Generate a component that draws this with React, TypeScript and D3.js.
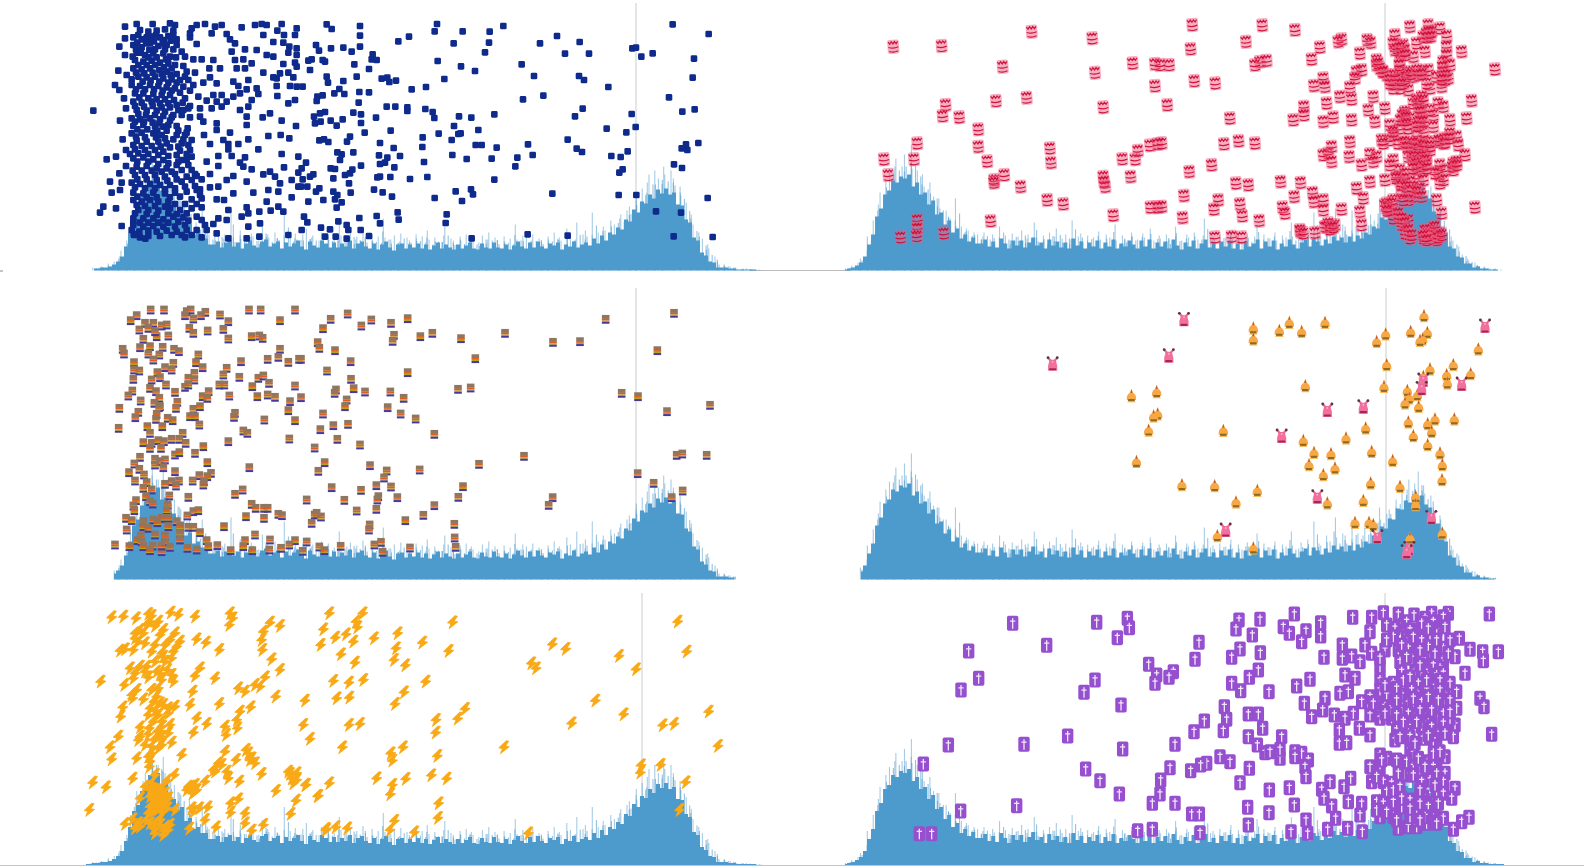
import React from "react";
import * as d3 from "d3";

// Coverage tracks: one bin every few genome units, values are track heights.
const leftCoverage = [
  1,1,2,2,3,3,4,6, 9,14,24,38,54,60,74,78, 90,88,92,80,82,68,66,56, 58,44,47,36,38,32,32,26,
  26,29,23,28,30,24,28,22,27,30, 25,23,29,31,24,27,29,22,28,24, 27,30,24,21,29,25,23,30,27,23,
  28,23,27,24,30,22,27,29,24,22, 27,21,26,29,23,20,26,27,22,26, 23,27,22,26,21,25,28,22,26,23,
  21,26,22,25,28,22,21,27,23,22, 28,23,22,26,21,25,29,24,22,28, 23,29,24, 22,27,25,28,21,26,24,29,23,26,
  28,25,32,27,35,30,38,36,43,41, 51,49,61,58,69,67,76,72,81,77, 82,76,78,66,65,51,48,33,30,18, 15,9,8,3,3,3,2,2,1,1, 1,1,1,0,0,
];
const leftSpikes = [
  1,2,3,3,4,5,7,9, 14,20,30,50,62,74,84,92, 104,112,100,108,92,84,80,72, 70,58,66,48,44,60,38,36,
  34,38,32,36,62,33,35,40,31,37, 34,30,45,36,33,38,32,35,58,34, 37,31,36,42,33,35,30,38,34,36,
  32,48,35,33,37,31,34,39,32,36, 30,34,52,33,31,35,29,37,33,30, 36,32,34,40,31,33,29,35,44,32,
  30,34,31,36,33,30,28,35,31,38, 33,30,34,29,32,46,31,35,33,30, 36,32,29,34,31,38,33,30,42,35, 31,48,36,
  40,36,58,38,44,40,50,46,52,56, 60,64,70,76,82,88,96,100,92,104, 96,100,92,84,78,68,56,46,38,32, 26,22,14,9,6,5,4,3,2,2, 2,1,1,1,0,
];
const rightCoverage = [
  1,2,3,5,8,14,26,36,54,62,76,80,90,88,94,92, 96,84,88,76,78,66,70,56,58,46,50,38,42,32,36,29,33,27,
  27,31,24,29,23,32,27,22,30,25, 30,23,28,33,25,28,22,31,25,29, 23,28,22,32,25,29,22,28,24,30,
  22,28,24,31,22,27,24,30,26,22, 30,24,31,22,28,24,29,22,31,25, 21,28,24,30,22,27,31,23,27,22,
  29,24,30,22,27,21,29,24,27,31, 22,29,24,30,21,27,24,31,26,22, 28,31,24,32,29,25,31,27,34,30,33,
  28,34,29,35,32,38,36,44,42,53, 51,61,60,71,70,79,77,85,81,84, 75,72,59,56,43,38,24,22,14,13, 7,7,3,4,2,2,1,1,1,1, 0,0,
];
const rightSpikes = [
  2,3,5,8,12,20,34,50,66,78,90,98,104,112,104,116, 108,126,100,96,84,88,74,72,62,60,54,50,72,44,42,40,38,36,
  34,38,31,36,33,44,35,30,37,34, 40,32,36,48,33,35,30,38,34,42, 32,36,31,50,34,37,30,35,33,39,
  31,36,33,46,30,35,32,38,34,31, 37,33,42,30,35,32,36,31,44,34, 30,36,33,38,31,35,52,32,34,30,
  36,33,40,31,35,30,37,33,34,46, 31,36,32,38,30,35,33,48,34,31, 37,40,33,58,36,34,44,38,62,42,46,
  44,40,60,46,44,52,56,50,72,60, 66,70,72,80,88,90,100,96,108,94, 86,84,72,64,56,44,34,30,24,16, 12,10,8,5,4,3,2,2,1,1, 0,0,
];
const spikeJitter = [0.4, 1.7, -1.2, 1.0, -0.6, 2.1, -1.7, 0.2, 1.3, -1.0, 0.8];

// Scatter readings; each list is in the units of the reading window named in its plot call.
const blueNear = [
  [375,80],[410,72],[458,72],[510,70],[525,75],[575,85],[590,75],[615,72],[645,80],[665,75],[725,82],[765,75],[785,72],[800,75],[845,72],[890,85],
  [420,90],[445,95],[470,92],[495,88],[520,92],[570,100],[635,100],[680,102],[790,105],[832,92],[852,105],[885,105],[375,115],[400,112],[425,118],[455,110],[480,112],[505,108],[530,118],[570,112],[690,118],[705,130],[820,126],[850,128],[868,140],[890,145],
  [358,140],[400,135],[425,142],[450,130],[475,138],[500,135],[520,148],[545,155],[590,132],[735,148],[770,150],[800,165],[820,170],[865,158],[890,165],[375,165],[410,158],[435,165],[460,160],[490,160],[510,170],[555,170],[580,178],[605,178],[695,155],[705,180],[730,178],[755,190],[885,188],
  [405,180],[430,185],[455,182],[480,188],[505,190],[525,195],[550,198],[640,180],[660,205],[710,205],[735,205],[850,192],[890,200],[400,205],[425,208],[450,205],[478,210],[500,215],[530,222],[560,215],[585,218],[628,205],[790,218],[830,235],[865,218],
  [355,212],[380,225],[415,230],[440,232],[465,230],[490,235],[515,238],[540,240],[565,240],[610,248],[630,232],[650,250],[700,245],[715,258],[745,240],[770,265],[820,232],[840,220],[880,232],
  [345,255],[395,255],[420,258],[450,255],[475,258],[500,262],[525,265],[550,260],[580,255],[740,268],[830,258],[870,258],[890,260],
  [358,270],[405,280],[430,280],[460,282],[485,285],[510,285],[555,295],[595,290],[640,285],[665,285],[700,290],[720,280],[775,282],[832,288],[885,300],[865,310],
  [372,295],[400,305],[425,308],[455,305],[480,310],[505,310],[530,315],[570,318],[620,302],[650,305],[680,305],[745,320],[755,300],[378,325],[410,330],[440,332],[470,332],[495,335],[520,345],[565,325],[600,325],[635,325],[665,320],[720,330],[810,340],
  [280,332],[395,355],[420,358],[450,355],[480,358],[510,362],[545,345],[570,352],[600,350],[740,350],[788,352],[845,362],[360,362],[400,378],[430,375],[465,380],[490,380],[530,378],[563,385],[610,365],[650,370],[740,375],[888,378],[650,390],
  [395,400],[425,398],[460,400],[485,405],[530,405],[555,405],[612,405],[690,398],[805,408],[842,405],[868,415],[368,418],[410,422],[440,425],[475,425],[500,430],[545,430],[575,420],[630,432],[670,420],[685,432],[715,432],[745,418],
  [378,450],[405,448],[435,450],[465,450],[490,455],[540,452],[570,450],[685,448],[775,448],[845,462],[320,478],[348,470],[400,475],[430,472],[460,478],[490,480],[545,480],[575,470],[620,485],[655,468],[695,468],[735,472],[720,488],[895,470],
  [378,498],[410,500],[440,498],[470,505],[500,505],[530,495],[565,495],[655,498],[755,508],[730,500],[852,502],[358,520],[405,525],[435,525],[465,525],[495,530],[525,522],[585,522],[630,522],[700,528],[790,523],[810,515],[825,530],[895,518],
  [330,545],[365,548],[395,548],[420,552],[450,552],[480,555],[510,555],[545,545],[575,540],[605,538],[680,540],[740,545],[875,540],[840,550],[895,560],
  [335,578],[360,570],[400,578],[430,580],[460,578],[495,580],[525,578],[560,575],[600,585],[630,562],[655,560],[760,578],[805,570],[835,575],[400,600],[425,605],[450,600],[475,605],[505,605],[575,598],[605,595],[650,598],[672,600],[700,580],[800,605],[875,592],
  [310,620],[300,638],[348,625],[415,630],[445,630],[475,632],[510,625],[540,630],[575,625],[605,622],[685,630],[740,622],[745,640],[778,635],[812,632],[835,620],[850,635],[400,655],[430,655],[460,655],[490,658],[520,650],[550,652],[590,650],[655,655],[680,660],[725,650],
  [365,678],[400,675],[430,680],[460,678],[490,680],[525,680],[555,675],[615,675],[640,672],[745,680],[780,670],[402,705],[420,712],[436,716],[545,705],[575,705],[605,712],[650,700],[685,715],[740,715],[778,710],[865,705],
];
const blueBand = [
  [415,105],[440,112],[468,105],[492,120],[520,105],[412,128],[438,130],[462,124],[488,130],[512,122],[408,148],[422,158],[448,150],[465,148],[495,148],[530,135],[398,170],[445,172],[470,172],[498,178],[528,172],[415,195],[440,195],[465,195],[492,202],[515,205],[408,218],[433,220],[458,218],[485,222],[512,225],[395,238],[428,245],[452,242],[478,245],[505,248],[530,248],[555,230],[408,268],[435,268],[462,268],[488,272],[515,272],[540,278],[570,272],[418,292],[445,295],[470,298],[495,298],[522,300],[548,308],[405,318],[432,320],[458,318],[485,322],[510,322],[535,330],[415,342],[438,345],[465,345],[490,348],[515,352],[550,330],[405,365],[432,365],[458,368],[478,370],[505,375],[412,388],[442,388],[472,392],[500,392],[535,392],[560,398],[408,410],[435,412],[468,412],[495,415],[520,418],[550,418],[400,435],[425,438],[455,438],[482,440],[510,442],[535,440],[565,435],[415,460],[445,462],[475,465],[505,468],[530,465],[560,462],[390,462],[412,485],[445,485],[475,492],[505,490],[535,485],[560,480],[398,512],[425,512],[455,512],[485,515],[515,515],[545,510],[575,510],[590,528],[412,538],[440,538],[470,540],[502,542],[530,538],[560,530],[405,562],[435,565],[465,565],[495,568],[525,565],[555,560],[585,558],[600,568],[412,590],[440,592],[470,592],[510,592],[540,590],[590,570],[410,615],[435,618],[465,618],[495,620],[525,612],[555,612],[590,612],[405,640],[440,642],[470,645],[505,640],[530,642],[560,640],[400,665],[420,668],[445,668],[475,668],[505,668],[535,665],[565,662],[605,660],[395,690],[418,695],[445,692],[470,695],[500,692],[530,695],[560,690],[590,690],[620,690],[402,702],[445,708],[480,708],[515,705],[555,712],
];
const blueFar = [
  [80,43],[95,57],[180,48],[180,77],[180,110],[93,115],[130,113],[155,125],[48,105],[57,122],[295,94],[327,80],[411,42],[404,64],[488,64],[569,65],[610,48],[567,98],[461,100],[555,127],[720,100],[771,78],[839,96],[795,131],[867,131],[1118,43],[1226,72],[997,115],[1008,113],[1024,140],[1058,130],[1182,146],[665,163],[702,198],[413,153],[483,169],[525,183],[218,133],[215,148],[230,150],[68,150],[75,155],[25,152],[35,148],[163,163],[207,177],[30,180],[80,200],[84,218],[170,200],[130,213],[245,206],[262,203],[268,216],[288,212],[433,207],[378,231],[335,238],[8,230],[103,250],[118,237],[133,252],[178,246],[207,247],[52,260],[68,256],[50,273],[176,278],[260,290],[286,290],[322,292],[322,303],[376,297],[398,306],[403,324],[477,319],[514,323],[583,313],[669,268],[730,257],[837,198],[852,210],[925,231],[1107,262],[1178,203],[848,296],[825,319],[995,312],[1147,305],[1184,298],[160,308],[183,313],[183,339],[228,323],[75,306],[60,310],[42,320],[45,340],[62,335],[92,332],[110,347],[128,328],[462,348],[535,360],[1007,351],[920,356],[979,367],[194,368],[272,362],[416,371],[368,382],[475,372],[455,390],[482,370],[58,391],[72,388],[85,396],[150,380],[141,395],[240,399],[803,389],[684,403],[367,411],[281,414],[527,405],[545,405],[590,413],[830,416],[846,426],[983,424],[1195,399],[1145,415],[1158,403],[1162,420],[160,427],[112,427],[125,433],[120,450],[237,436],[300,438],[262,443],[255,458],[240,462],[457,435],[500,447],[575,446],[652,443],[698,435],[934,438],[962,441],[372,456],[183,467],[283,472],[646,469],[1122,463],[1146,474],[968,478],[958,488],[92,475],[105,477],[18,458],[5,475],[40,493],[30,500],[135,495],[150,490],[157,479],[240,500],[232,502],[271,501],[382,501],[330,507],[583,509],[100,505],[8,508],[147,520],[22,530],[3,530],[58,535],[48,545],[222,539],[248,547],[152,548],[100,545],[112,555],[105,568],[276,560],[467,544],[513,538],[519,553],[404,564],[757,551],[956,555],[1009,555],[1223,564],[25,575],[70,570],[125,577],[110,593],[486,573],[1068,604],[1143,608],[293,607],[440,613],[12,620],[22,637],[230,618],[240,640],[178,624],[115,634],[296,629],[437,639],[140,645],[145,660],[63,653],[90,658],[182,660],[5,660],[75,680],[107,680],[207,678],[140,686],[515,685],[683,673],[803,677],[1121,679],[1238,681],
];
const redNear = [
  [100,140],[245,138],[515,95],[697,115],[818,190],[885,192],[428,200],[705,218],[885,258],[257,315],[248,348],[298,352],[408,303],[500,293],[730,322],[355,388],[355,440],[172,430],[72,478],[162,478],[382,484],[85,525],[570,445],[573,488],[433,525],[403,540],[402,548],[730,530],[736,560],[732,545],[787,477],[826,478],[834,452],[870,436],[893,432],[812,530],[482,560],[562,600],[610,612],[392,663],[760,646],[872,622],[893,622],[172,660],[172,685],[170,708],[122,712],[252,700],
];
const redFar = [
  [97,75],[307,76],[405,90],[92,147],[258,125],[480,142],[455,178],[545,118],[535,125],[622,120],[632,128],[600,160],[905,155],[1005,208],[28,195],[0,195],[103,243],[166,250],[300,185],[320,182],[285,195],[490,235],[462,257],[495,260],[590,215],[605,210],[585,235],[570,262],[540,290],[575,298],[500,310],[22,315],[210,355],[432,320],[432,345],[400,360],[490,365],[520,352],[575,360],[935,302],[920,355],[870,360],[640,290],[625,330],[645,365],[675,325],[5,430],[192,432],[236,423],[285,430],[570,425],[568,470],[505,460],[490,465],[515,440],[515,485],[605,495],[650,470],[630,462],[155,495],[88,515],[228,550],[265,555],[362,545],[422,548],[403,590],[458,578],[462,605],[490,600],[490,630],[545,628],[590,565],[610,595],[630,545],[600,635],[605,675],[72,587],[5,620],[175,600],[162,628],[240,612],[247,648],[68,653],[298,662],[368,622],[375,640],[945,622],[165,712],[215,710],[245,712],[422,695],[465,698],[495,680],[515,680],[525,675],[505,670],
  [750,80],[805,75],[840,85],[705,105],[860,108],[805,105],[790,110],[700,130],[730,135],[770,130],[860,140],[860,165],[725,160],[720,180],[795,155],[650,180],[660,205],[680,225],[705,240],[730,250],[745,270],[700,265],[760,230],[790,215],[760,170],[745,215],[720,215],[850,185],[870,195],[850,215],[865,235],[845,260],[810,265],[785,290],[775,320],[785,350],[780,375],[835,310],[850,320],[820,345],[735,335],[730,360],[720,385],[700,405],[690,375],[665,420],[730,430],[750,440],[770,430],[800,425],[830,425],[855,415],[890,410],[895,435],[915,465],[880,490],[855,510],[835,515],[840,550],[840,495],[800,470],[780,480],[790,510],[760,480],[745,470],[700,480],[690,495],[720,510],[770,520],[750,545],[720,545],[675,540],[790,540],[780,565],[760,590],[725,580],[700,600],[680,610],[690,630],[715,650],[725,675],[735,700],[750,715],[830,600],[845,640],[800,705],[790,715],[820,690],[840,700],[830,720],[770,440],[790,455],[810,450],[770,405],[820,380],[745,385],[690,420],[715,430],[755,465],[770,500],[735,520],[790,395],[810,330],[760,310],[750,355],[800,100],[815,95],[735,150],[705,150],[650,195],[670,215],[690,250],[720,265],[775,225],[805,210],[830,230],[855,240],[800,250],[735,235],[880,510],[890,485],[760,450],[785,440],[780,455],[800,490],[775,465],[735,535],[710,530],[760,560],[680,625],[700,655],[745,660],[800,695],[815,715],[735,345],[785,335],[775,365],[700,395],[670,430],[850,430],[870,400],[640,485],[850,540],[825,520],
];
const redCore = [
  [655,190],[668,215],[690,238],[700,252],[718,235],[738,228],[752,222],[772,210],[785,222],[705,225],[725,252],[712,145],[722,142],[735,165],[718,195],[808,95],[800,112],[812,110],[848,200],[858,225],[846,238],[770,300],[778,308],[790,300],[780,335],[782,362],[772,378],[790,365],[728,345],[722,360],[738,352],[740,372],[735,425],[742,440],[760,428],[775,445],[790,435],[810,438],[838,420],[855,428],[868,415],[762,470],[775,480],[785,470],[795,480],[770,490],[782,498],[800,505],[760,505],[878,500],[890,495],[708,535],[725,555],[738,560],[755,570],[770,575],[785,590],[745,600],[730,600],[675,615],[685,620],[695,610],[682,632],[715,640],[725,655],[735,668],[745,690],[755,705],[795,690],[805,700],[812,688],[825,680],[790,708],[800,720],[835,712],[845,705],[500,680],[510,688],[520,682],[420,690],[430,700],
];
const stripesNear = [
  [152,30],[192,30],[260,35],[272,30],[316,37],[303,47],[280,57],[255,47],[360,45],[385,65],[447,30],[482,30],[585,30],[540,62],[110,47],[92,62],[135,70],[160,70],[185,78],[200,75],[118,90],[145,85],[170,110],[370,88],[268,85],[280,100],[323,93],[205,108],[130,118],[165,95],[455,110],[478,108],[488,115],[385,117],[68,148],[72,162],[120,143],[150,140],[188,142],[222,148],[237,155],[145,162],[178,165],[160,180],[295,165],[540,148],[535,172],[503,178],[565,187],[597,178],[423,185],[102,188],[195,203],[220,190],[288,188],[308,203],[215,210],[102,210],[118,213],[380,205],[370,225],[283,220],[172,218],[180,233],[418,232],[475,235],[490,228],[507,250],[100,238],[155,240],[265,235],[283,240],[150,265],[168,275],[198,255],[225,277],[255,262],[265,255],[358,255],[373,255],[457,260],[585,258],[97,273],[85,288],[308,290],[326,275],[322,295],[388,288],[472,290],[503,285],[525,292],[178,295],[122,303],[232,307],[163,310],[180,320],[228,325],[570,305],[58,325],[115,337],[177,323],[280,328],[300,320],[565,332],[405,340],[402,352],[106,353],[170,343],[168,358],[203,355],[218,362],[270,350],[285,350],[493,360],[585,362],[142,380],[187,380],[298,375],[56,385],[430,393],[442,400],[150,400],[248,400],[130,428],[155,430],[175,422],[192,425],[215,418],[238,418],[257,430],[385,425],[568,417],[150,445],[183,445],[310,440],[225,465],[238,458],[285,460],[120,472],[165,478],[180,485],[195,480],[322,488],[165,495],[190,503],[103,492],[448,503],[118,508],[87,518],[225,515],[298,527],[333,520],[322,530],[132,525],[105,543],[140,548],[215,545],[237,543],[278,543],[195,553],[312,545],[228,558],[310,555],[130,565],[155,570],[428,570],[405,583],[138,590],[208,588],[265,592],[108,602],[100,618],[150,605],[203,615],[158,612],[103,632],[200,632],[280,635],[295,632],[262,648],[455,613],[467,625],[492,625],[503,625],[535,643],[546,647],[438,650],[492,655],[78,655],[95,662],[130,665],[160,660],[185,655],[205,655],[130,680],[145,685],[172,668],[230,665],[240,680],[80,690],[205,680],[265,682],[280,682],[300,698],[372,680],[465,705],[122,708],[165,705],[195,708],[240,700],[112,722],[125,725],[195,725],[240,720],[320,722],[435,722],[510,720],[585,722],[45,735],[88,740],[130,740],[158,738],[210,742],[262,745],[290,750],[325,740],[352,737],[430,740],[392,752],[457,752],[508,750],[543,745],[568,735],[150,752],[185,755],[185,738],
];
const stripesFar = [
  [143,42],[92,58],[214,60],[273,70],[323,56],[69,86],[184,78],[282,106],[278,124],[361,110],[397,100],[483,116],[615,100],[759,127],[840,125],[917,58],[1122,40],[1072,152],[53,128],[58,145],[105,152],[3,178],[152,185],[526,176],[81,213],[323,218],[153,238],[161,266],[108,270],[104,280],[195,276],[271,276],[474,268],[512,264],[965,280],[1014,290],[3,293],[311,295],[140,300],[135,320],[263,323],[69,342],[302,342],[347,357],[1101,335],[1230,316],[144,373],[100,377],[61,389],[403,403],[112,418],[180,435],[44,444],[672,469],[74,488],[210,497],[537,493],[1130,466],[1147,462],[1220,466],[55,514],[260,513],[359,510],[252,534],[1013,521],[229,557],[95,563],[273,561],[489,560],[1061,550],[183,571],[1148,573],[235,590],[232,600],[292,593],[20,600],[133,601],[475,592],[758,593],[1115,593],[229,628],[170,633],[746,616],[403,617],[50,640],[44,645],[63,651],[370,646],[35,670],[316,662],[209,675],[207,690],[463,673],[20,726],[243,727],[223,735],[464,714],[467,742],[58,741],[122,739],[330,744],[8,754],[73,752],[248,757],
];
const flames = [
  [160,85],[160,118],[238,92],[268,68],[305,95],[375,68],[530,125],[557,103],[632,95],[672,48],[682,98],[668,118],[660,122],[835,148],[560,195],[690,208],[760,195],[812,222],[740,225],[742,250],[552,260],[316,258],[670,230],[652,285],[622,272],[628,295],[615,310],[656,320],[625,367],[497,385],[70,392],[683,372],[705,358],[695,395],[763,358],[640,408],[310,422],[438,415],[683,435],[515,455],[342,458],[393,462],[578,482],[327,495],[405,505],[720,460],[727,495],[370,525],[512,550],[600,560],[726,540],[44,558],[172,572],[108,607],[382,610],[490,602],[647,590],[647,615],[465,668],[507,668],[520,675],[727,700],[52,708],[630,715],[160,745],
];
const pinks = [
  [855,78],[382,330],[490,320],[245,408],[352,590],[77,690],[670,240],[665,265],[785,252],[694,652],[532,710],[628,745],[620,755],
];
const flamesOverview = [[1120,392],[1145,388],[1146,410],[1142,412],[1137,426],[1125,457],[1170,480]];
const pinksOverview = [[1042,360],[1157,352],[1172,316]];
const boltsNear = [
  [95,82],[130,80],[168,85],[205,72],[215,78],[272,68],[295,75],[345,80],[450,70],[458,85],[448,105],[570,98],[600,108],[550,125],[545,150],[547,180],[165,130],[175,155],[190,130],[200,105],[235,95],[250,120],[285,130],[300,155],[280,185],[225,165],[245,190],[350,148],[378,158],[418,180],[120,182],[135,178],[160,180],[575,208],[600,240],[150,235],[165,250],[200,230],[205,262],[245,270],[275,255],[360,235],[345,258],[405,265],[62,275],[133,285],[225,215],[255,215],[230,245],[525,285],[555,262],[540,290],[475,295],[495,305],[587,320],[338,305],[158,325],[190,328],[230,320],[330,345],[418,342],[512,352],[128,352],[122,380],[210,355],[250,345],[285,350],[235,375],[265,370],[480,365],[470,390],[350,385],[380,402],[435,410],[220,395],[245,410],[270,405],[180,412],[340,428],[438,435],[472,415],[115,440],[175,450],[205,432],[235,440],[90,472],[95,508],[215,470],[245,465],[275,458],[305,495],[170,505],[205,500],[435,485],[498,480],[515,505],[525,520],[208,530],[468,510],[545,552],[425,525],[405,545],[445,565],[283,555],[478,575],[38,578],[78,592],[158,566],[375,575],[262,572],[325,590],[345,585],[338,610],[350,600],[630,552],[650,550],[640,580],[678,585],[715,618],[588,603],[180,625],[220,600],[235,625],[265,625],[452,640],[475,628],[648,632],[28,660],[285,660],[340,665],[383,652],[452,668],[495,670],[632,672],[205,670],[232,660],[250,650],[375,690],[495,700],[135,702],[158,688],[180,710],[222,715],[250,722],[270,705],[328,716],[408,712],[515,722],[550,705],[738,720],[225,640],[210,620],[240,690],[200,690],[195,590],[215,580],
];
const boltsCore = [
  [210,95],[225,108],[165,145],[180,120],[240,135],[270,150],[290,170],[255,165],[215,185],[195,160],[250,200],[275,205],[180,230],[195,245],[240,250],[262,240],[280,275],[160,265],[170,300],[155,315],[215,300],[235,295],[222,335],[240,340],[265,355],[205,375],[225,362],[245,395],[232,425],[222,450],[245,440],[265,430],[208,415],[180,440],[195,465],[215,490],[235,475],[210,515],[225,555],[210,600],[215,615],[228,600],[245,595],[240,615],[255,610],[222,630],[232,645],[245,640],[260,640],[210,650],[220,665],[245,665],[262,655],[225,700],[240,705],[258,710],[265,720],[250,735],[225,730],[210,700],[175,700],[165,715],[335,590],[320,600],[345,605],[358,655],[335,655],[400,540],[415,520],[440,545],[505,490],[510,510],[635,565],[650,570],[625,545],
];
const boltsFar = [
  [88,70],[70,118],[62,165],[106,143],[138,133],[168,95],[172,112],[188,70],[160,155],[123,193],[222,145],[165,218],[293,130],[288,175],[282,210],[316,226],[367,158],[458,97],[446,183],[100,273],[147,278],[190,270],[377,275],[110,325],[148,323],[312,307],[285,342],[15,332],[10,405],[147,405],[180,402],[30,447],[127,472],[408,390],[407,428],[495,357],[473,386],[612,472],[309,472],[272,490],[277,512],[412,498],[230,565],[277,585],[271,613],[317,567],[394,556],[440,566],[16,585],[88,580],[53,618],[416,640],[414,684],[283,693],[270,720],[78,717],[107,712],[142,715],[343,727],[685,730],[757,163],[797,177],[694,220],[708,235],[957,198],[1008,238],[1133,95],[1160,185],[886,332],[971,373],[815,400],[1088,406],[1122,402],[1226,365],[1254,468],[1023,526],[1021,548],[1082,525],[1157,577],[1139,660],
];
const crossesNear = [
  [398,100],[650,97],[742,85],[748,113],[712,143],[266,183],[500,166],[296,265],[243,300],[645,270],[612,307],[806,223],[830,255],[825,280],[880,245],[867,262],[723,345],[205,465],[432,463],[563,438],[728,477],[885,463],[130,522],[617,537],[660,572],[870,533],[842,570],[840,612],[718,612],[817,640],[885,640],[242,663],[410,647],[118,731],[155,731],[773,722],[817,718],
];
const crossesFar = [
  [177,90],[240,88],[343,72],[168,117],[217,135],[310,110],[328,130],[378,122],[365,155],[422,98],[422,138],[518,82],[575,82],[928,72],[57,157],[45,208],[155,202],[180,177],[241,188],[432,202],[487,165],[487,205],[515,198],[540,215],[555,165],[570,125],[838,145],[870,178],[908,185],[910,212],[955,185],
  [235,240],[208,262],[155,280],[182,302],[267,305],[350,288],[390,268],[495,255],[525,265],[480,310],[505,305],[855,250],[900,325],[912,350],[133,350],[373,340],[435,325],[428,360],[395,380],[463,375],[495,385],[520,370],[140,388],[130,422],[73,393],[42,425],[205,372],[235,372],[248,415],[205,440],[305,440],[232,465],[255,488],[270,485],[300,505],[300,478],[345,485],[365,490],[385,510],[345,500],[375,530],[378,560],[478,420],[478,460],[500,458],[538,415],[570,435],[935,433],
  [120,500],[150,515],[80,520],[62,525],[32,542],[208,535],[180,578],[268,600],[328,593],[425,598],[450,575],[492,590],[512,565],[432,625],[455,648],[505,635],[545,640],[343,645],[203,652],[267,668],[35,672],[58,672],[467,685],[540,675],[378,690],[205,705],[60,728],[333,725],[383,730],[443,718],[503,715],[547,725],[820,718],[845,695],[867,682],
  [610,68],[655,72],[702,75],[755,70],[805,70],[790,80],[735,85],[620,105],[645,115],[670,105],[715,120],[770,120],[795,110],[640,140],[680,140],[750,140],[810,150],[700,165],[615,180],[655,180],[685,175],[745,170],[790,175],[825,200],[575,190],[600,230],[660,215],[695,205],[750,205],[790,210],[665,245],[705,245],[745,245],[780,235],[600,270],[670,270],[715,280],[765,290],[810,280],[830,305],[570,320],[600,300],[620,315],[665,315],[710,310],[760,320],[795,315],[545,335],[590,340],[640,345],[685,340],[725,335],[770,350],[830,355],[795,345],[570,375],[600,385],[635,385],[665,365],[700,375],[740,375],[775,385],[650,420],[685,410],[725,410],[770,430],[825,405],[820,440],[800,415],[645,450],[690,440],[730,445],[770,470],[795,500],[600,495],[620,505],[690,480],[680,515],[570,530],[600,535],[720,540],[770,510],[795,550],[575,575],[610,575],[655,550],[635,580],[690,555],[750,570],[790,575],[825,595],[620,605],[590,635],[640,635],[690,630],[770,610],[815,625],[600,680],[665,650],[710,660],[760,665],[790,685],[655,715],[685,710],[710,710],[740,700],[760,695],[730,620],[590,660],[640,680],
  [620,150],[600,205],[730,210],[760,225],[640,280],[690,290],[740,300],[580,340],[615,350],[750,345],[700,345],[685,370],[630,360],[790,370],[745,400],[810,385],[660,440],[700,490],[760,450],[745,515],[700,530],[650,510],[760,530],[640,600],[760,640],[690,680],
];
const crossesCore = [
  [680,95],[725,100],[760,95],[690,120],[745,115],[700,140],[725,150],[770,150],[665,165],[720,180],[765,190],[805,190],[680,200],[720,225],[770,255],[790,250],[690,260],[740,270],[780,270],[615,285],[650,295],[695,300],[780,300],[650,330],[700,325],[745,320],[775,330],[810,330],[615,370],[650,375],[720,360],[755,360],[810,365],[670,395],[710,395],[755,410],[790,400],[795,430],[745,435],[705,460],[760,490],[780,485],[715,505],[735,530],[700,555],[725,575],[770,550],[765,585],[605,510],[590,560],[660,590],[720,600],[790,610],[610,640],[665,625],[720,640],[745,650],[775,640],[620,665],[690,655],[735,680],[770,700],[650,690],[720,690],
];

// Reading windows: the span of the picture that each list above was read in.
const windows = {
  blueNear: [0, 0, 300, 280], blueFar: [300, 10, 420, 240],
  redNear: [860, 0, 300, 280], redFar: [1160, 0, 340, 270],
  stripesNear: [100, 300, 200, 280], stripesFar: [300, 300, 430, 280],
  flames: [1200, 300, 300, 280], boltsNear: [80, 590, 250, 278], boltsFar: [300, 590, 430, 250],
  crossesNear: [880, 590, 300, 278], crossesFar: [1180, 590, 320, 270],
};

const READ_ZOOM = 3;
const windowScales = ([x, y, w, h]: number[]) => ({
  x: d3.scaleLinear().domain([0, w * READ_ZOOM]).range([x, x + w]),
  y: d3.scaleLinear().domain([0, h * READ_ZOOM]).range([y, y + h]),
});
const overview = {
  x: d3.scaleLinear().domain([0, 1568]).range([0, 1584]),
  y: d3.scaleLinear().domain([0, 859]).range([0, 868]),
};

const rows = [
  { base: 270.5, marker: 3 },
  { base: 579.5, marker: 288 },
  { base: 865, marker: 593 },
];
const leftTrack = { from: 86, to: 762, marker: [636, 636, 642] };
const rightTrack = { from: 845, to: 1510, marker: [1385, 1386, 1385] };
const tracks = [
  { cov: leftCoverage, spike: leftSpikes, ...leftTrack, clip: [[90, 758], [112, 735], [86, 762]] },
  { cov: rightCoverage, spike: rightSpikes, ...rightTrack, clip: [[843, 1498], [860, 1495], [845, 1510]] },
];

function Track({ t, r }: { t: (typeof tracks)[number]; r: number }) {
  const base = rows[r].base;
  const x = d3.scaleLinear().domain([0, t.cov.length - 1]).range([t.from, t.to]);
  const y = d3.scaleLinear().domain([0, 100]).range([base, base - 100]);
  const [c0, c1] = t.clip[r];
  const idx = d3.range(t.cov.length).filter((i) => x(i) >= c0 && x(i) <= c1);
  const shape = d3
    .area<number>()
    .curve(d3.curveStep)
    .x((i) => x(i))
    .y0(base)
    .y1((i) => y(t.cov[i]));
  return (
    <g>
      <line x1={t.marker[r]} x2={t.marker[r]} y1={rows[r].marker} y2={base} stroke="#c9ccd0" strokeWidth={1} />
      {idx.map((i) => (
        <line key={i} x1={x(i) + spikeJitter[i % 11]} x2={x(i) + spikeJitter[i % 11]} y1={base} y2={y(t.spike[i] ?? 0)} stroke="#4d9acd" strokeOpacity={0.5} strokeWidth={1.1} />
      ))}
      {idx.map((i) => (
        <line key={"b" + i} x1={x(i) + 2 + spikeJitter[(i + 5) % 11]} x2={x(i) + 2 + spikeJitter[(i + 5) % 11]} y1={base} y2={y(((t.spike[i] ?? 0) + t.cov[i]) / 2)} stroke="#4d9acd" strokeOpacity={0.6} strokeWidth={1.1} />
      ))}
      <path d={shape(idx) ?? ""} fill="#4d9acd" />
    </g>
  );
}

function Marks({ pts, id, win }: { pts: number[][]; id: string; win: { x: any; y: any } }) {
  return (
    <g>
      {pts.map(([a, b], i) => (
        <use key={i} href={"#" + id} transform={`translate(${win.x(a)},${win.y(b)})`} />
      ))}
    </g>
  );
}

export default function App() {
  return (
    <svg width={1584} height={868} style={{ position: "fixed", left: 0, top: 0, background: "#fff" }}>
      <defs>
        <filter id="soft" x="0" y="0" width="100%" height="100%">
          <feGaussianBlur stdDeviation="0.6" />
        </filter>
        <g id="m-blue">
          <rect x={-3.3} y={-3.3} width={6.6} height={6.6} rx={1.4} fill="#0f2a8c" />
        </g>
        <g id="m-red" transform="rotate(-4)">
          <rect x={-5.8} y={-7} width={11.6} height={14} rx={2} fill="#ec5f82" fillOpacity={0.5} />
          <path d="M-5,-5 l1.6,2.2 l1.6,-2.2 l1.6,2.2 l1.6,-2.2 l1.6,2.2 l1.6,-2.2 M-5,0.5 q5,2 10,0 M-4.5,4.5 q4.5,2 9,0" fill="none" stroke="#cf0a36" strokeOpacity={0.95} strokeWidth={1.2} />
        </g>
        <g id="m-stripes">
          <rect x={-3.8} y={-4.4} width={7.6} height={4} fill="#8f7661" />
          <rect x={-3.8} y={-0.6} width={7.6} height={1.8} fill="#dd5f1e" />
          <rect x={-3.8} y={1.2} width={7.6} height={1.2} fill="#b9a028" />
          <rect x={-3.8} y={2.4} width={7.6} height={2} fill="#46389c" />
        </g>
        <g id="m-flame">
          <path d="M0,-7 L1.8,-3 C4.4,-1.5 5,1 4.6,4 L-4.6,4 C-5,1 -4.4,-1.5 -1.8,-3 Z" fill="#f8a744" />
          <path d="M0,-7 L1,-3 L-1,-3 Z" fill="#b65a35" />
          <rect x={-3.4} y={3} width={6.8} height={2.4} rx={0.8} fill="#8f6a20" />
          <rect x={-4} y={5.2} width={8} height={1} fill="#f9b24a" />
        </g>
        <g id="m-pink">
          <path d="M-3,-4 L3,-4 L4.6,2 L4.6,7 L-4.6,7 L-4.6,2 Z" fill="#f2709f" />
          <path d="M-4.6,-6 L-1,-2 M4.6,-6 L1,-2" stroke="#ee6a98" strokeWidth={2.2} />
          <circle cx={-4.6} cy={-6} r={1.4} fill="#5c3440" />
          <circle cx={4.6} cy={-6} r={1.4} fill="#5c3440" />
          <circle cx={0} cy={-2} r={1} fill="#f7b0c8" />
          <rect x={-3.6} y={4.4} width={7.2} height={2.2} rx={0.8} fill="#a82850" />
        </g>
        <g id="m-bolt" transform="rotate(12)">
          <path d="M0.8,-7 L-5,1.6 L-1.4,1.6 L-2.2,7 L5,-1.6 L1.2,-1.6 L3.4,-7 Z" fill="#f9a813" stroke="#f9a813" strokeWidth={0.7} />
        </g>
        <g id="m-cross">
          <rect x={-5.7} y={-7.5} width={11.4} height={15} rx={1.8} fill="#9550cf" />
          <path d="M0,-5 L0,5.5 M-2.6,-2.2 L2.6,-2.2" stroke="#f1e7fa" strokeWidth={1.3} />
        </g>
      </defs>
      <g filter="url(#soft)">
        <line x1={750} x2={850} y1={rows[0].base} y2={rows[0].base} stroke="#bcbcbc" strokeWidth={1} />
        <line x1={0} x2={1584} y1={rows[2].base + 0.5} y2={rows[2].base + 0.5} stroke="#c4c4c4" strokeWidth={1.2} />
        <line x1={0} x2={3} y1={271} y2={271} stroke="#8a8a8a" strokeWidth={1} />
        {rows.map((_, r) => tracks.map((t) => <Track key={r + "-" + t.from} t={t} r={r} />))}
        <Marks pts={blueNear} id="m-blue" win={windowScales(windows.blueNear)} />
        <Marks pts={blueBand} id="m-blue" win={windowScales(windows.blueNear)} />
        <Marks pts={blueFar} id="m-blue" win={windowScales(windows.blueFar)} />
        <Marks pts={redNear} id="m-red" win={windowScales(windows.redNear)} />
        <Marks pts={redFar} id="m-red" win={windowScales(windows.redFar)} />
        <Marks pts={redCore} id="m-red" win={windowScales(windows.redFar)} />
        <Marks pts={stripesNear} id="m-stripes" win={windowScales(windows.stripesNear)} />
        <Marks pts={stripesFar} id="m-stripes" win={windowScales(windows.stripesFar)} />
        <Marks pts={flames} id="m-flame" win={windowScales(windows.flames)} />
        <Marks pts={pinks} id="m-pink" win={windowScales(windows.flames)} />
        <Marks pts={flamesOverview} id="m-flame" win={overview} />
        <Marks pts={pinksOverview} id="m-pink" win={overview} />
        <Marks pts={boltsNear} id="m-bolt" win={windowScales(windows.boltsNear)} />
        <Marks pts={boltsCore} id="m-bolt" win={windowScales(windows.boltsNear)} />
        <Marks pts={boltsFar} id="m-bolt" win={windowScales(windows.boltsFar)} />
        <Marks pts={crossesNear} id="m-cross" win={windowScales(windows.crossesNear)} />
        <Marks pts={crossesFar} id="m-cross" win={windowScales(windows.crossesFar)} />
        <Marks pts={crossesCore} id="m-cross" win={windowScales(windows.crossesFar)} />
      </g>
    </svg>
  );
}
